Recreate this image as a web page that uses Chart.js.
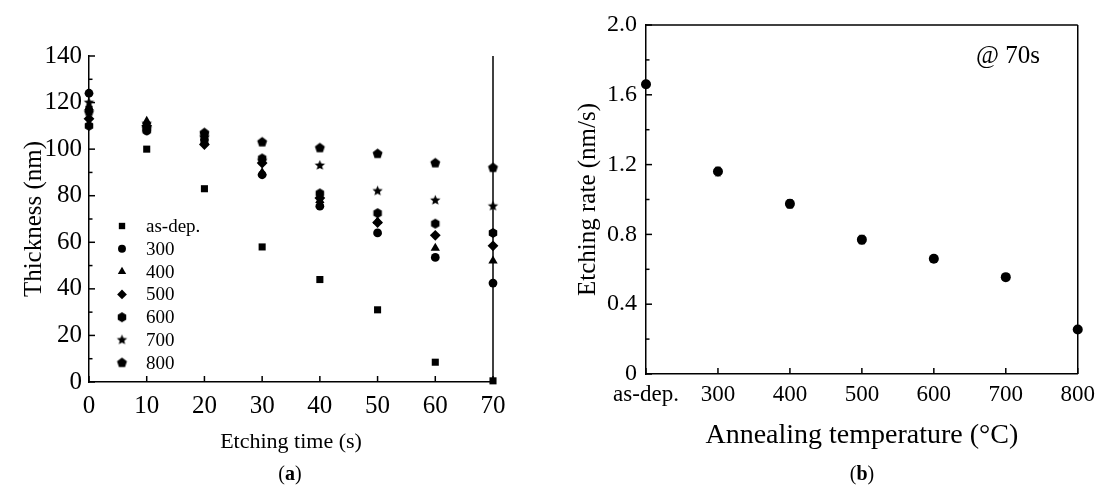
<!DOCTYPE html>
<html>
<head>
<meta charset="utf-8">
<script src="https://cdn.jsdelivr.net/npm/chart.js@4.4.0/dist/chart.umd.min.js"></script>
<style>
  body { margin: 0; background: #fff; width: 1097px; height: 490px; position: relative; overflow: hidden; font-family: "Liberation Serif", serif; }
  #wrapA { position: absolute; left: 0; top: 0; width: 540px; height: 490px; }
  #wrapB { position: absolute; left: 545px; top: 0; width: 557px; height: 490px; }
  .cap { position: absolute; top: 462px; font-size: 20px; transform: translateX(-50%); }
  #note { position: absolute; left: 976px; top: 41px; font-size: 25px; }
</style>
</head>
<body>
<div id="wrapA"><canvas id="chartA"></canvas></div>
<div id="wrapB"><canvas id="chartB"></canvas></div>
<div class="cap" style="left:290px">(<b>a</b>)</div>
<div class="cap" style="left:862px">(<b>b</b>)</div>
<div id="note">@ 70s</div>
<script>
// (a) thickness vs etching time
const etchTimes = [0, 10, 20, 30, 40, 50, 60, 70];
const seriesLabels = ['as-dep.', '300', '400', '500', '600', '700', '800'];
const thickAsDep = [117, 100, 83, 58, 44, 31, 8.5, 0.5];
const thick300 = [124, 108, 104, 89, 75.5, 64, 53.5, 42.5];
const thick400 = [118, 112, 103.5, 90, 78, 69, 57.5, 52];
const thick500 = [113, 110, 102, 94, 79, 68.5, 63, 58.5];
const thick600 = [110, 108, 106, 96, 81, 72.5, 68, 64];
const thick700 = [120, 111, 105, 95, 93, 82, 78, 75.5];
const thick800 = [116, 109, 107, 103, 100.5, 98, 94, 92];

// (b) etching rate vs annealing temperature
const tempLabels = ['as-dep.', '300', '400', '500', '600', '700', '800'];
const rateValues = [1.66, 1.16, 0.975, 0.77, 0.66, 0.555, 0.255];
const rateErrors = [0.02, 0.025, 0.025, 0.025, 0.02, 0.02, 0.01];

const FONT = '"Liberation Serif", "Times New Roman", serif';

// filled polygon / star markers that Chart.js doesn't have
function shapeCanvas(n, r, innerRatio, rot) {
  const size = Math.ceil(r * 2 + 2);
  const c = document.createElement('canvas');
  c.width = size; c.height = size;
  const g = c.getContext('2d');
  g.fillStyle = '#000';
  g.beginPath();
  const pts = innerRatio ? n * 2 : n;
  for (let i = 0; i < pts; i++) {
    const rr = innerRatio && i % 2 ? r * innerRatio : r;
    const a = rot + (i * Math.PI * 2) / pts;
    const px = size / 2 + rr * Math.sin(a);
    const py = size / 2 - rr * Math.cos(a);
    if (i === 0) g.moveTo(px, py); else g.lineTo(px, py);
  }
  g.closePath();
  g.fill();
  return c;
}
const hexagon = shapeCanvas(6, 4.9, 0, 0);
const star = shapeCanvas(5, 5.4, 0.45, 0);
const pentagon = shapeCanvas(5, 5.2, 0, 0);

const markerStyles = ['rect', 'circle', 'triangle', 'rectRot', hexagon, star, pentagon];
const markerRadius = [5, 4.4, 5.4, 5.4, 4.9, 5.4, 5.2];
const thickSeries = [thickAsDep, thick300, thick400, thick500, thick600, thick700, thick800];

function toPoints(xs, ys) {
  return xs.map((x, i) => ({ x: x, y: ys[i] }));
}

// inward tick marks, minor ticks and frame lines
const tickMarks = {
  id: 'tickMarks',
  afterDraw(chart, args, opts) {
    const ctx = chart.ctx;
    const a = chart.chartArea;
    const xs = chart.scales.x, ys = chart.scales.y;
    ctx.save();
    ctx.strokeStyle = '#000';
    ctx.lineWidth = 1.5;
    const line = (x1, y1, x2, y2) => { ctx.beginPath(); ctx.moveTo(x1, y1); ctx.lineTo(x2, y2); ctx.stroke(); };
    const xv = xs.ticks.map(t => t.value);
    const yv = ys.ticks.map(t => t.value);
    xv.forEach(v => { const p = xs.getPixelForValue(v); line(p, a.bottom, p, a.bottom - 6); });
    yv.forEach(v => { const p = ys.getPixelForValue(v); line(a.left, p, a.left + 6, p); });
    if (opts.yMinor) {
      for (let i = 0; i < yv.length - 1; i++) {
        const p = ys.getPixelForValue((yv[i] + yv[i + 1]) / 2);
        line(a.left, p, a.left + 3.5, p);
      }
    }
    if (opts.frame === 'full') {
      line(a.left, a.top, a.right, a.top);
      line(a.right, a.top, a.right, a.bottom);
    } else if (opts.frame === 'right') {
      line(a.right, a.top, a.right, a.bottom);
    }
    ctx.restore();
  }
};

// legend drawn inside the plot area of (a)
const innerLegend = {
  id: 'innerLegend',
  afterDatasetsDraw(chart, args, opts) {
    if (!opts.show) return;
    const ctx = chart.ctx;
    ctx.save();
    ctx.fillStyle = '#000';
    ctx.strokeStyle = '#000';
    ctx.font = '19px ' + FONT;
    ctx.textBaseline = 'middle';
    chart.data.datasets.forEach((ds, i) => {
      const y = opts.top + i * opts.step;
      Chart.helpers.drawPoint(ctx, { pointStyle: ds.pointStyle, radius: ds.pointRadius * 0.9, rotation: 0, borderWidth: 0 }, opts.left, y);
      ctx.fillStyle = '#000';
      ctx.fillText(ds.label, opts.left + 24, y + 1);
    });
    ctx.restore();
  }
};

// error bars for (b)
const errorBars = {
  id: 'errorBars',
  beforeDatasetsDraw(chart, args, opts) {
    if (!opts.errors) return;
    const ctx = chart.ctx;
    const xs = chart.scales.x, ys = chart.scales.y;
    ctx.save();
    ctx.strokeStyle = '#555';
    ctx.lineWidth = 1;
    opts.values.forEach((v, i) => {
      const x = xs.getPixelForValue(i);
      const y1 = ys.getPixelForValue(v + opts.errors[i]);
      const y2 = ys.getPixelForValue(v - opts.errors[i]);
      ctx.beginPath();
      ctx.moveTo(x, y1); ctx.lineTo(x, y2);
      ctx.moveTo(x - 3, y1); ctx.lineTo(x + 3, y1);
      ctx.moveTo(x - 3, y2); ctx.lineTo(x + 3, y2);
      ctx.stroke();
    });
    ctx.restore();
  }
};

Chart.defaults.font.family = FONT;
Chart.defaults.color = '#000';

new Chart(document.getElementById('chartA'), {
  type: 'scatter',
  data: {
    datasets: thickSeries.map((s, i) => ({
      label: seriesLabels[i],
      data: toPoints(etchTimes, s),
      pointStyle: markerStyles[i],
      pointRadius: markerRadius[i],
      backgroundColor: '#000',
      borderColor: '#000',
      borderWidth: 0,
      clip: false
    }))
  },
  options: {
    responsive: true,
    maintainAspectRatio: false,
    animation: false,
    layout: { padding: { left: 0, top: 56, right: 47, bottom: 35 } },
    plugins: {
      legend: { display: false },
      tooltip: { enabled: false },
      tickMarks: { yMinor: true, frame: 'right' },
      innerLegend: { show: true, left: 122, top: 226, step: 22.8 }
    },
    scales: {
      x: {
        type: 'linear', min: 0, max: 70,
        ticks: { stepSize: 10, padding: 9, font: { size: 25 }, color: '#000', maxRotation: 0, autoSkip: false },
        grid: { display: false, drawTicks: false },
        border: { display: true, color: '#000', width: 1.5 },
        title: { display: true, text: 'Etching time (s)', font: { size: 22 }, padding: { top: 0, bottom: 0 }, color: '#000' },
        afterFit: s => { s.height = 73; }
      },
      y: {
        type: 'linear', min: 0, max: 140,
        ticks: { stepSize: 20, padding: 7, font: { size: 25 }, color: '#000' },
        grid: { display: false, drawTicks: false },
        border: { display: true, color: '#000', width: 1.5 },
        title: { display: true, text: 'Thickness (nm)', font: { size: 25 }, padding: { top: 19, bottom: 0 }, color: '#000' },
        afterFit: s => { s.width = 89; }
      }
    }
  },
  plugins: [tickMarks, innerLegend]
});

new Chart(document.getElementById('chartB'), {
  type: 'scatter',
  data: {
    datasets: [{
      label: 'Etching rate',
      data: rateValues.map((v, i) => ({ x: i, y: v })),
      pointStyle: 'circle',
      pointRadius: 5,
      backgroundColor: '#000',
      borderColor: '#000',
      borderWidth: 0,
      clip: false
    }]
  },
  options: {
    responsive: true,
    maintainAspectRatio: false,
    animation: false,
    layout: { padding: { left: 0, top: 25, right: 19, bottom: 38 } },
    plugins: {
      legend: { display: false },
      tooltip: { enabled: false },
      tickMarks: { yMinor: true, frame: 'full' },
      errorBars: { values: rateValues, errors: rateErrors }
    },
    scales: {
      x: {
        type: 'linear', min: 0, max: 6,
        ticks: { stepSize: 1, padding: 7, font: { size: 23 }, color: '#000', maxRotation: 0, minRotation: 0, autoSkip: false, callback: v => tempLabels[v] },
        grid: { display: false, drawTicks: false },
        border: { display: true, color: '#000', width: 1.5 },
        title: { display: true, text: 'Annealing temperature (°C)', font: { size: 28 }, padding: { top: 0, bottom: 0 }, color: '#000' },
        afterFit: s => { s.height = 78; }
      },
      y: {
        type: 'linear', min: 0, max: 2,
        ticks: { stepSize: 0.4, padding: 9, font: { size: 24 }, color: '#000', callback: v => (v === 0 ? '0' : v.toFixed(1)) },
        grid: { display: false, drawTicks: false },
        border: { display: true, color: '#000', width: 1.5 },
        title: { display: true, text: 'Etching rate (nm/s)', font: { size: 25 }, padding: { top: 28, bottom: 0 }, color: '#000' },
        afterFit: s => { s.width = 101; }
      }
    }
  },
  plugins: [tickMarks, errorBars]
});
</script>
</body>
</html>
